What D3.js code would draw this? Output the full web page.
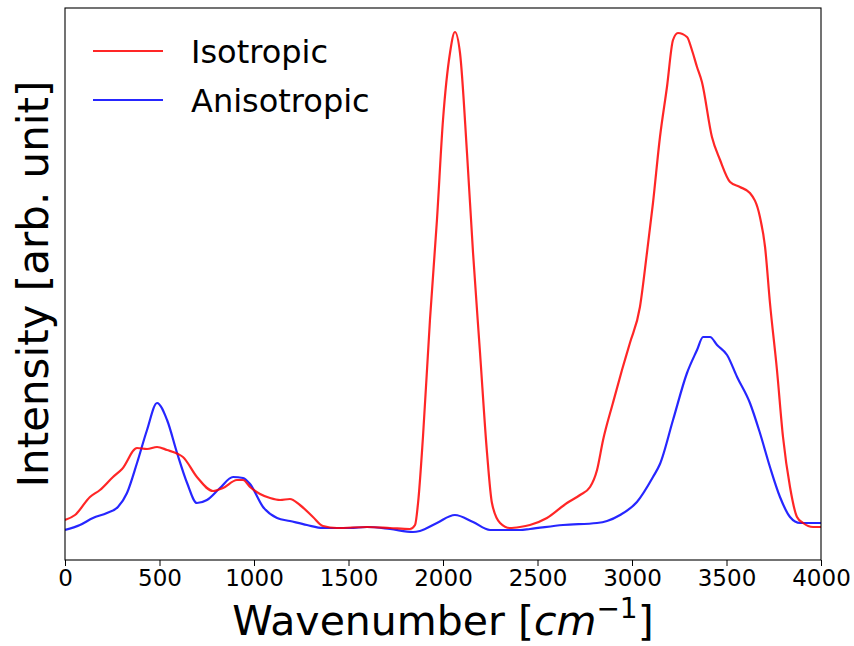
<!DOCTYPE html>
<html>
<head>
<meta charset="utf-8">
<script src="https://cdn.jsdelivr.net/npm/d3@7"></script>
<style>
  html, body { margin: 0; padding: 0; background: #fff; }
  svg text { font-family: "DejaVu Sans", sans-serif; }
</style>
</head>
<body>
<svg id="chart" width="854" height="646"></svg>
<script>
// ---- Data ----
const isoWave = [0,53,132,185,254,302,381,434,487,540,598,624,698,783,836,910,942,979,1032,1085,1138,1190,1243,1312,1365,1439,1598,1720,1825,1852,1868,1894,1931,1968,2000,2037,2063,2090,2127,2159,2196,2233,2259,2302,2354,2407,2460,2550,2656,2725,2778,2815,2847,2899,2947,2989,3042,3079,3111,3148,3185,3217,3243,3291,3317,3344,3370,3423,3466,3519,3571,3624,3677,3704,3730,3767,3799,3836,3873,3905,3958,4000];
const isoVals = [0.030,0.040,0.076,0.090,0.116,0.132,0.174,0.172,0.176,0.170,0.162,0.156,0.116,0.088,0.094,0.110,0.110,0.096,0.082,0.074,0.070,0.072,0.060,0.036,0.018,0.014,0.016,0.014,0.012,0.020,0.064,0.196,0.430,0.630,0.830,0.964,1.006,0.964,0.764,0.564,0.364,0.164,0.064,0.024,0.014,0.016,0.020,0.034,0.064,0.080,0.096,0.130,0.190,0.264,0.330,0.384,0.456,0.564,0.664,0.796,0.896,0.990,1.004,0.996,0.970,0.936,0.906,0.796,0.750,0.706,0.696,0.684,0.636,0.576,0.464,0.330,0.196,0.096,0.036,0.024,0.016,0.016];

const aniWave = [0,79,148,222,280,328,381,434,487,540,593,646,698,751,820,889,942,979,1048,1122,1190,1280,1365,1508,1598,1720,1841,1878,1968,2063,2159,2249,2407,2460,2635,2815,2868,2937,3026,3111,3148,3217,3291,3344,3376,3413,3450,3503,3556,3624,3677,3730,3783,3836,3889,4000];
const aniVals = [0.010,0.020,0.034,0.044,0.056,0.084,0.144,0.210,0.264,0.230,0.164,0.104,0.064,0.070,0.094,0.116,0.114,0.102,0.056,0.034,0.028,0.020,0.014,0.014,0.016,0.012,0.006,0.008,0.024,0.040,0.026,0.010,0.010,0.012,0.020,0.024,0.028,0.040,0.066,0.116,0.142,0.230,0.324,0.370,0.396,0.396,0.380,0.360,0.316,0.264,0.204,0.136,0.076,0.036,0.024,0.024];

const xTicks = [0,500,1000,1500,2000,2500,3000,3500,4000];
const seriesNames = ["Isotropic", "Anisotropic"];
const seriesColors = ["#ff0000", "#0000ff"];

// ---- Layout ----
const svg = d3.select("#chart");
const L = 65, R = 821, T = 8, B = 560;

const x = d3.scaleLinear().domain([0, 4000]).range([L, R]);
const y = d3.scaleLinear().domain([-0.05, 1.054]).range([B, T]);

const series = [
  { name: seriesNames[0], color: seriesColors[0], pts: isoWave.map((w, i) => [w, isoVals[i]]) },
  { name: seriesNames[1], color: seriesColors[1], pts: aniWave.map((w, i) => [w, aniVals[i]]) }
];

const line = d3.line()
  .x(d => x(d[0]))
  .y(d => y(d[1]))
  .curve(d3.curveMonotoneX);

svg.append("clipPath").attr("id", "clip")
  .append("rect").attr("x", L).attr("y", T).attr("width", R - L).attr("height", B - T);

const g = svg.append("g").attr("clip-path", "url(#clip)");
[series[1], series[0]].forEach(s => {
  g.append("path")
    .attr("d", line(s.pts))
    .attr("fill", "none")
    .attr("stroke", s.color)
    .attr("stroke-opacity", 0.85)
    .attr("stroke-width", 2.2)
    .attr("stroke-linejoin", "round");
});

// X axis
const xAxis = d3.axisBottom(x).tickValues(xTicks).tickSize(6).tickPadding(4).tickFormat(d3.format("d"));
const ax = svg.append("g").attr("transform", `translate(0,${B})`).call(xAxis);
ax.select(".domain").remove();
ax.selectAll(".tick line").attr("stroke", "#000").attr("stroke-width", 1);
ax.selectAll(".tick text")
  .attr("font-size", 23)
  .attr("font-family", "DejaVu Sans, sans-serif")
  .attr("fill", "#000");

// Frame
svg.append("rect")
  .attr("x", L).attr("y", T).attr("width", R - L).attr("height", B - T)
  .attr("fill", "none").attr("stroke", "#000").attr("stroke-width", 1.1);

// Y label
svg.append("text")
  .attr("transform", `translate(48,${(T + B) / 2}) rotate(-90)`)
  .attr("text-anchor", "middle")
  .attr("font-size", 42)
  .attr("fill", "#000")
  .text("Intensity [arb. unit]");

// X label with math-style italic cm and superscript
const xl = svg.append("text")
  .attr("x", (L + R) / 2)
  .attr("y", 635)
  .attr("text-anchor", "middle")
  .attr("font-size", 41)
  .attr("fill", "#000");
xl.append("tspan").text("Wavenumber [");
xl.append("tspan").attr("font-style", "italic").text("cm");
xl.append("tspan").attr("font-size", 28).attr("dy", -17).text("\u22121");
xl.append("tspan").attr("dy", 17).text("]");

// Legend
const legY = [51, 100];
series.forEach((s, i) => {
  svg.append("line")
    .attr("x1", 93).attr("x2", 163)
    .attr("y1", legY[i]).attr("y2", legY[i])
    .attr("stroke", s.color).attr("stroke-opacity", 0.85).attr("stroke-width", 2.2);
  svg.append("text")
    .attr("x", 191).attr("y", legY[i] + 12)
    .attr("font-size", 32)
    .attr("fill", "#000")
    .text(s.name);
});
</script>
</body>
</html>
